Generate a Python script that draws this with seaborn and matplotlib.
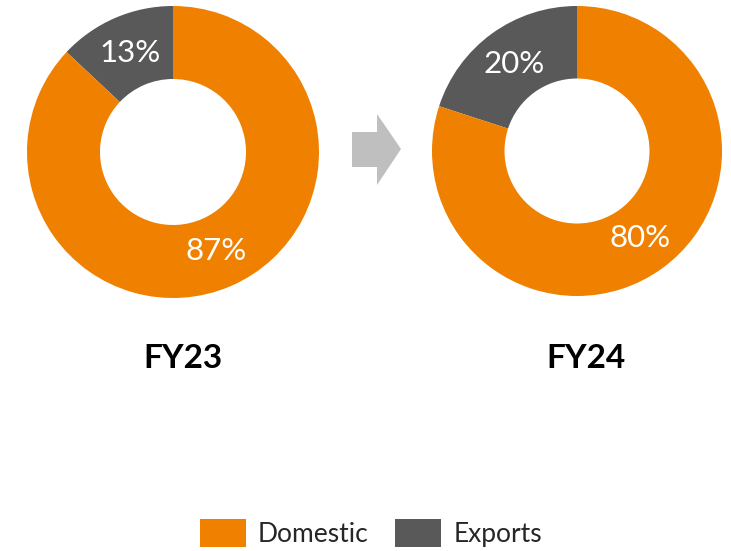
import matplotlib
matplotlib.use("Agg")
import matplotlib.pyplot as plt
import seaborn as sns
from matplotlib.patches import Polygon

# data
years = ["FY23", "FY24"]
segments = ["Domestic", "Exports"]
domestic = [87, 80]
exports = [13, 20]

colors = {"Domestic": "#F08000", "Exports": "#595959"}

sns.set_theme(style="white")
plt.rcParams['font.family'] = ['Lato', 'DejaVu Sans']

W, H = 731, 551
fig = plt.figure(figsize=(W / 100, H / 100), dpi=100)

# donut boxes in pixels: left, top, size
boxes = [(27, 6, 292), (432, 6, 290)]
year_x = [183, 586]

wedges = None
for i, yr in enumerate(years):
    l, t, s = boxes[i]
    ax = fig.add_axes([l / W, (H - t - s) / H, s / W, s / H])
    vals = [exports[i], domestic[i]]
    cols = [colors["Exports"], colors["Domestic"]]
    w, txts = ax.pie(vals, colors=cols, startangle=90, counterclock=True,
                     radius=1, wedgeprops=dict(width=0.5, linewidth=0),
                     labels=[f"{v}%" for v in vals], labeldistance=0.74,
                     textprops=dict(color="white", fontsize=22.5, ha="center", va="center"))
    ax.set_xlim(-1, 1)
    ax.set_ylim(-1, 1)
    ax.axis("off")
    if wedges is None:
        wedges = w
    fig.text(year_x[i] / W, 1 - 359 / H, yr, ha="center", va="center",
             fontsize=24, fontweight="bold", color="black")

# arrow between donuts
pts = [(352, 132), (377, 132), (377, 114), (401, 149), (377, 185), (377, 167), (352, 167)]
arrow = Polygon([(x / W, 1 - y / H) for x, y in pts], closed=True,
                transform=fig.transFigure, facecolor="#BFBFBF", edgecolor="none")
fig.patches.append(arrow)

fig.legend([wedges[1], wedges[0]], segments, loc="center", bbox_to_anchor=(371 / W, 1 - 533 / H),
           ncol=2, frameon=False, fontsize=19, handlelength=1.75, handleheight=1.3,
           handletextpad=0.45, columnspacing=1.0)

fig.savefig("out.png", dpi=100)
